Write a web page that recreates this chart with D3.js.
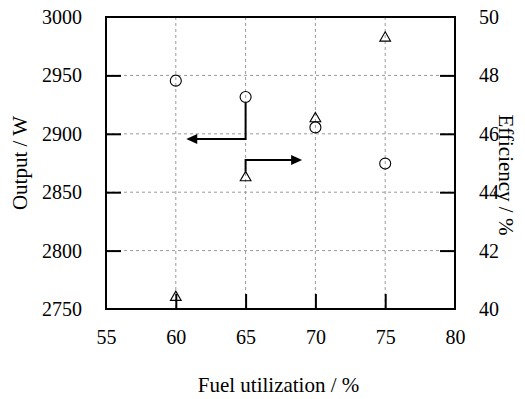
<!DOCTYPE html>
<html>
<head>
<meta charset="utf-8">
<script src="https://cdn.jsdelivr.net/npm/d3@7"></script>
<style>
  html, body { margin: 0; padding: 0; background: #fff; }
  #chart text { font-family: "Liberation Serif"; }
</style>
</head>
<body>
<svg id="chart" width="525" height="399" font-family="Liberation Serif"></svg>
<script>
// Fuel utilization (%) tested
const fuelUtil = [60, 65, 70, 75];
// Electrical output (W) at each utilization
const outputW = [2945.5, 2931.5, 2905.5, 2874.5];
// Efficiency (%) at each utilization
const efficiency = [40.4, 44.5, 46.52, 49.28];

const xTicks = [55, 60, 65, 70, 75, 80];
const yLeftTicks = [2750, 2800, 2850, 2900, 2950, 3000];
const yRightTicks = [40, 42, 44, 46, 48, 50];

// Arrows pointing each series to its axis: [x, y] in data units
const outputArrow = { start: [65, 2931.5], corner: [65, 2895.5], end: [60.75, 2895.5] };
const effArrow = { start: [65, 44.5], corner: [65, 45.1], end: [69.05, 45.1] };

const FONT = "Liberation Serif";
const TICK_FS = 20;
const TITLE_FS = 21;

const svg = d3.select("#chart");
const m = { left: 106, top: 17, right: 70, bottom: 90 };
const W = 525 - m.left - m.right, H = 399 - m.top - m.bottom;

const x = d3.scaleLinear().domain([55, 80]).range([m.left, m.left + W]);
const yL = d3.scaleLinear().domain([2750, 3000]).range([m.top + H, m.top]);
const yR = d3.scaleLinear().domain([40, 50]).range([m.top + H, m.top]);

const g = svg.append("g");

// dashed grid
g.selectAll(".gx").data(xTicks.slice(1, -1)).enter().append("line")
  .attr("x1", d => x(d)).attr("x2", d => x(d))
  .attr("y1", m.top).attr("y2", m.top + H)
  .attr("stroke", "#9a9a9a").attr("stroke-width", 1).attr("stroke-dasharray", "3,3");
g.selectAll(".gy").data(yLeftTicks.slice(1, -1)).enter().append("line")
  .attr("x1", m.left).attr("x2", m.left + W)
  .attr("y1", d => yL(d)).attr("y2", d => yL(d))
  .attr("stroke", "#9a9a9a").attr("stroke-width", 1).attr("stroke-dasharray", "3,3");

// axes with inward ticks
const tickLen = 15;
const fmt = d3.format("d");
const axB = d3.axisBottom(x).tickValues(xTicks).tickFormat(fmt).tickSize(-tickLen).tickPadding(tickLen + 6);
const axL = d3.axisLeft(yL).tickValues(yLeftTicks).tickFormat(fmt).tickSize(-tickLen).tickPadding(tickLen + 9);
const axR = d3.axisRight(yR).tickValues(yRightTicks).tickFormat(fmt).tickSize(-tickLen).tickPadding(tickLen + 9);

function styleAxis(sel) {
  sel.attr("font-family", FONT).attr("font-size", TICK_FS);
  sel.select(".domain").remove();
  sel.selectAll(".tick line").attr("stroke", "#000").attr("stroke-width", 2);
  sel.selectAll(".tick text").attr("font-family", FONT).attr("font-size", TICK_FS).attr("fill", "#000");
}
const hideEnds = (arr) => (d, i) => (i === 0 || i === arr.length - 1) ? "none" : null;

const gB = g.append("g").attr("transform", `translate(0,${m.top + H})`).call(axB).call(styleAxis);
gB.selectAll(".tick line").attr("display", hideEnds(xTicks));
const gL = g.append("g").attr("transform", `translate(${m.left},0)`).call(axL).call(styleAxis);
gL.selectAll(".tick line").attr("display", hideEnds(yLeftTicks));
const gR = g.append("g").attr("transform", `translate(${m.left + W},0)`).call(axR).call(styleAxis);
gR.selectAll(".tick line").attr("display", hideEnds(yRightTicks));

// frame
g.append("rect").attr("x", m.left).attr("y", m.top).attr("width", W).attr("height", H)
  .attr("fill", "none").attr("stroke", "#000").attr("stroke-width", 2);

// output markers (circles)
g.selectAll(".pt-out").data(fuelUtil).enter().append("circle")
  .attr("cx", d => x(d)).attr("cy", (d, i) => yL(outputW[i])).attr("r", 5.5)
  .attr("fill", "none").attr("stroke", "#000").attr("stroke-width", 1.1);

// efficiency markers (triangles)
const tri = d3.symbol().type(d3.symbolTriangle).size(50);
g.selectAll(".pt-eff").data(fuelUtil).enter().append("path")
  .attr("d", tri)
  .attr("transform", (d, i) => `translate(${x(d)},${yR(efficiency[i])})`)
  .attr("fill", "none").attr("stroke", "#000").attr("stroke-width", 1.1);

// arrows
function arrow(a, ys, fromOffset) {
  const p0 = [x(a.start[0]), ys(a.start[1]) + fromOffset];
  const p1 = [x(a.corner[0]), ys(a.corner[1])];
  const p2 = [x(a.end[0]), ys(a.end[1])];
  const dir = Math.sign(p2[0] - p1[0]);
  const headLen = 11, headW = 5;
  g.append("path")
    .attr("d", d3.line()([p0, p1, [p2[0] - dir * headLen + dir, p2[1]]]))
    .attr("fill", "none").attr("stroke", "#000").attr("stroke-width", 2);
  g.append("path")
    .attr("d", d3.line()([[p2[0], p2[1]], [p2[0] - dir * headLen, p2[1] - headW], [p2[0] - dir * headLen, p2[1] + headW]]) + "Z")
    .attr("fill", "#000");
}
arrow(outputArrow, yL, 5.5);
arrow(effArrow, yR, -6);

// axis titles
function title(sel) {
  return sel.attr("text-anchor", "middle").attr("fill", "#000")
    .attr("font-family", FONT).attr("font-size", TITLE_FS);
}
svg.append("text").attr("x", m.left + W / 2 - 2).attr("y", 392).call(title).text("Fuel utilization / %");
svg.append("text").attr("transform", `translate(27,${m.top + H / 2}) rotate(-90)`).call(title).text("Output / W");
svg.append("text").attr("transform", `translate(499,175) rotate(90)`).call(title).text("Efficiency / %");
</script>
</body>
</html>
